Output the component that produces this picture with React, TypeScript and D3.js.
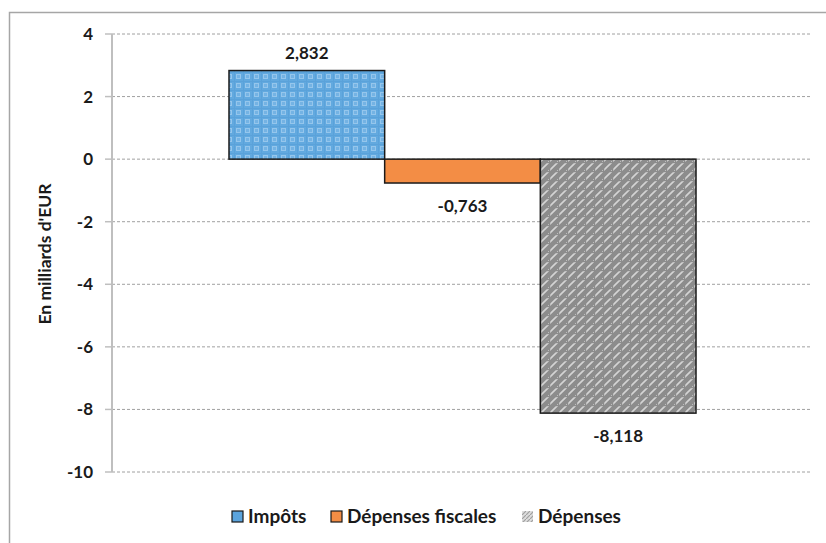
import React from 'react';
import * as d3 from 'd3';

// Chart data
const series = ['Impôts', 'Dépenses fiscales', 'Dépenses'];
const values = [2.832, -0.763, -8.118];
const valueLabels = ['2,832', '-0,763', '-8,118'];
const yTicks = [4, 2, 0, -2, -4, -6, -8, -10];
const fills = ['url(#patBlue)', '#F38D45', 'url(#patGray)'];

const W = 826;
const H = 543;
const font = "Lato, 'Open Sans', sans-serif";

const App = () => {
  const left = 112;
  const right = 810;
  const top = 34;
  const bottom = 472;

  // one category, three adjacent series bars, ~75% gap each side
  const x = d3.scaleBand<string>().domain(series).range([229, 696]).padding(0);
  const y = d3.scaleLinear().domain([-10, 4]).range([bottom, top]);

  const legendX = [232, 331, 522];

  return (
    <svg width={W} height={H} style={{ position: 'absolute', left: 0, top: 0 }}>
      <defs>
        <pattern id="patBlue" width="9" height="9" patternUnits="userSpaceOnUse">
          <rect width="9" height="9" fill="#62A9DF" />
          <rect x="2" y="2" width="5" height="5" fill="#95C6EC" />
          <rect x="3" y="3" width="3" height="3" fill="#74B3E4" />
          <rect x="0" y="0" width="9" height="1" fill="#5AA2DA" />
          <rect x="0" y="0" width="1" height="9" fill="#5AA2DA" />
        </pattern>
        <pattern id="patGray" width="9" height="9" patternUnits="userSpaceOnUse">
          <rect width="9" height="9" fill="#8C8C8C" />
          <path d="M0,9 L9,0 M-3,3 L3,-3 M6,12 L12,6" stroke="#D4D4D4" strokeWidth="1.6" />
          <rect x="0" y="0" width="9" height="1.2" fill="#8C8C8C" />
          <rect x="0" y="0" width="1.2" height="9" fill="#8C8C8C" />
        </pattern>
        <pattern id="patGrayLeg" width="4" height="4" patternUnits="userSpaceOnUse">
          <rect width="4" height="4" fill="#DDDDDD" />
          <path d="M0,4 L4,0" stroke="#A0A0A0" strokeWidth="1.2" />
        </pattern>
      </defs>

      {/* outer frame */}
      <rect x={9.5} y={12.5} width={830} height={540} fill="#fff" stroke="#A6A6A6" strokeWidth={1.5} />

      {/* gridlines */}
      {yTicks.map((t) => (
        <line key={'g' + t} x1={left} x2={right} y1={y(t)} y2={y(t)}
          stroke="#A0A0A0" strokeWidth={1} strokeDasharray="3,2" />
      ))}

      {/* bars */}
      {values.map((v, i) => (
        <rect key={series[i]}
          x={x(series[i])}
          y={Math.min(y(v), y(0))}
          width={x.bandwidth()}
          height={Math.abs(y(v) - y(0))}
          fill={fills[i]}
          stroke="#1A1A1A"
          strokeWidth={1.5} />
      ))}

      {/* y axis */}
      <line x1={left} x2={left} y1={top} y2={bottom} stroke="#BFBFBF" strokeWidth={2} />
      {yTicks.map((t) => (
        <g key={'t' + t}>
          <line x1={left - 7} x2={left} y1={y(t)} y2={y(t)} stroke="#BFBFBF" strokeWidth={1.5} />
          <text x={93} y={y(t)} dy="0.35em" textAnchor="end" fontFamily={font}
            fontWeight="bold" fontSize={17} fill="#1A1A1A">{t}</text>
        </g>
      ))}
      <text transform={`translate(45, 254) rotate(-90)`} textAnchor="middle" dy="0.35em"
        fontFamily={font} fontWeight="bold" fontSize={17.5} fill="#1A1A1A">En milliards d'EUR</text>

      {/* value labels */}
      {values.map((v, i) => (
        <text key={'v' + i}
          x={(x(series[i]) as number) + x.bandwidth() / 2}
          y={v >= 0 ? y(v) - 12 : y(v) + 29}
          textAnchor="middle" fontFamily={font} fontWeight="bold" fontSize={17} fill="#1A1A1A">
          {valueLabels[i]}
        </text>
      ))}

      {/* legend */}
      {series.map((s, i) => (
        <g key={'l' + i} transform={`translate(${legendX[i]}, 511)`}>
          <rect x={0} y={0} width={11} height={11}
            fill={i === 0 ? '#5BA4DD' : i === 1 ? '#F38D45' : 'url(#patGrayLeg)'}
            stroke={i === 2 ? 'none' : '#1A1A1A'} strokeWidth={1.2} />
          <text x={16} y={5.5} dy="0.35em" fontFamily={font} fontWeight="bold" fontSize={19} fill="#1A1A1A">{s}</text>
        </g>
      ))}
    </svg>
  );
};

export default App;
